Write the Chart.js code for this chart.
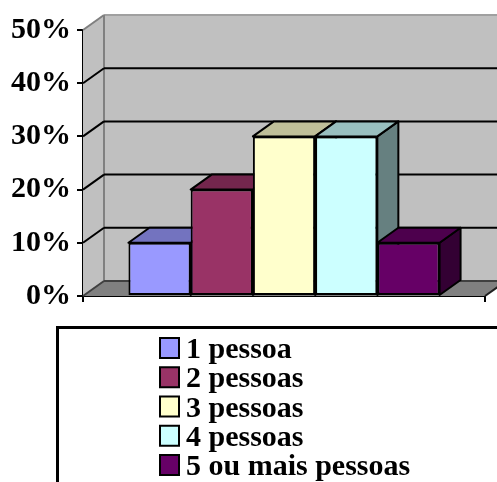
<!DOCTYPE html>
<html>
<head>
<meta charset="utf-8">
<title>Pessoas por domicílio</title>
<script src="https://cdn.jsdelivr.net/npm/chart.js"></script>
<style>
  body { margin: 0; background: #fff; }
  #wrap { width: 497px; height: 482px; position: relative; }
</style>
</head>
<body>
<div id="wrap"><canvas id="chart"></canvas></div>

<script>
// Data
const categories = [''];
const seriesLabels = ['1 pessoa', '2 pessoas', '3 pessoas', '4 pessoas', '5 ou mais pessoas'];
const seriesValues = [0.10, 0.20, 0.30, 0.30, 0.10];
const seriesColors = ['#9999FF', '#993366', '#FFFFCC', '#CCFFFF', '#660066'];
const yMax = 0.5;
const yStep = 0.1;

const serif = '"Liberation Serif", "Times New Roman", serif';
const depth = { dx: 21, dy: -15 }; // 3D offset of the back plane

function shade(hex, f) {
  const n = parseInt(hex.slice(1), 16);
  const r = Math.round(((n >> 16) & 255) * f);
  const g = Math.round(((n >> 8) & 255) * f);
  const b = Math.round((n & 255) * f);
  return 'rgb(' + r + ',' + g + ',' + b + ')';
}

function poly(ctx, pts, fill, stroke, lw) {
  ctx.beginPath();
  ctx.moveTo(pts[0][0], pts[0][1]);
  for (let i = 1; i < pts.length; i++) ctx.lineTo(pts[i][0], pts[i][1]);
  ctx.closePath();
  if (fill) { ctx.fillStyle = fill; ctx.fill(); }
  if (stroke) { ctx.strokeStyle = stroke; ctx.lineWidth = lw || 2; ctx.stroke(); }
}

function line(ctx, x1, y1, x2, y2, color, lw) {
  ctx.beginPath();
  ctx.moveTo(x1, y1);
  ctx.lineTo(x2, y2);
  ctx.strokeStyle = color;
  ctx.lineWidth = lw || 2;
  ctx.stroke();
}

// walls, floor, back gridlines and the top/side faces of the bars
const box3d = {
  id: 'box3d',
  beforeDatasetsDraw(chart) {
    const { ctx, chartArea: a } = chart;
    const y = chart.scales.y;
    const { dx, dy } = depth;
    ctx.save();
    ctx.lineJoin = 'round';

    ctx.fillStyle = '#C0C0C0';
    ctx.fillRect(a.left + dx, a.top + dy, a.right - a.left, a.bottom - a.top);
    poly(ctx, [[a.left, a.top], [a.left + dx, a.top + dy], [a.left + dx, a.bottom + dy], [a.left, a.bottom]], '#C0C0C0');
    poly(ctx, [[a.left, a.bottom], [a.left + dx, a.bottom + dy], [a.right + dx, a.bottom + dy], [a.right, a.bottom]], '#808080');

    line(ctx, a.left + dx, a.top + dy, a.right + dx + 5, a.top + dy, '#A0A0A0', 2);
    line(ctx, a.left + dx, a.top + dy, a.left + dx, a.bottom + dy, '#808080', 2);

    y.ticks.forEach(t => {
      const py = y.getPixelForValue(t.value);
      const edge = t.value === 0 || t.value >= yMax;
      const col = t.value === 0 ? '#404040' : (edge ? '#808080' : '#000');
      line(ctx, a.left, py, a.left + dx, py + dy, col, 2);
      if (!edge || t.value === 0) line(ctx, a.left + dx, py + dy, a.right + dx + 5, py + dy, col, 2);
    });
    line(ctx, a.right, a.bottom, a.right + dx, a.bottom + dy, '#202020', 2);

    chart.data.datasets.forEach((ds, i) => {
      const meta = chart.getDatasetMeta(i);
      meta.data.forEach(bar => {
        const p = bar.getProps(['x', 'y', 'base', 'width'], true);
        const l = p.x - p.width / 2, r = p.x + p.width / 2;
        const c = ds.backgroundColor;
        poly(ctx, [[r, p.y], [r + dx, p.y + dy], [r + dx, p.base + dy], [r, p.base]], shade(c, 0.5), '#000', 2);
        poly(ctx, [[l, p.y], [l + dx, p.y + dy], [r + dx, p.y + dy], [r, p.y]], shade(c, 0.75), '#000', 2);
      });
    });
    ctx.restore();
  }
};

// boxed legend under the plot
const boxLegend = {
  id: 'boxLegend',
  afterDraw(chart) {
    const ctx = chart.ctx;
    ctx.save();
    ctx.strokeStyle = '#000';
    ctx.lineWidth = 3;
    ctx.strokeRect(57.5, 327.5, 480, 200);
    ctx.font = 'bold 30px ' + serif;
    ctx.textBaseline = 'alphabetic';
    chart.data.datasets.forEach((ds, i) => {
      const base = 358 + i * 29.25;
      ctx.fillStyle = ds.backgroundColor;
      ctx.fillRect(160, base - 20, 19, 20);
      ctx.lineWidth = 2;
      ctx.strokeRect(160, base - 20, 19, 20);
      ctx.fillStyle = '#000';
      ctx.fillText(ds.label, 186, base);
    });
    ctx.restore();
  }
};

new Chart(document.getElementById('chart'), {
  type: 'bar',
  data: {
    labels: categories,
    datasets: seriesLabels.map((label, i) => ({
      label,
      data: [seriesValues[i]],
      backgroundColor: seriesColors[i],
      borderColor: '#000',
      borderWidth: 2,
      borderSkipped: false,
      barPercentage: 1,
      categoryPercentage: 0.774
    }))
  },
  options: {
    responsive: true,
    maintainAspectRatio: false,
    animation: false,
    layout: { padding: { top: 30, right: 12, bottom: 180, left: 5 } },
    plugins: {
      legend: { display: false },
      tooltip: { enabled: false }
    },
    scales: {
      x: {
        ticks: { display: false },
        grid: { drawOnChartArea: false, color: '#000', lineWidth: 2, tickLength: 6, offset: true },
        border: { color: '#000', width: 2 }
      },
      y: {
        min: 0,
        max: yMax,
        ticks: {
          stepSize: yStep,
          color: '#000',
          padding: 6,
          font: { family: serif, size: 30, weight: 'bold' },
          callback: v => Math.round(v * 100) + '%'
        },
        grid: { drawOnChartArea: false, color: '#000', lineWidth: 2, tickLength: 6 },
        border: { color: '#000', width: 2 }
      }
    }
  },
  plugins: [box3d, boxLegend]
});
</script>
</body>
</html>
